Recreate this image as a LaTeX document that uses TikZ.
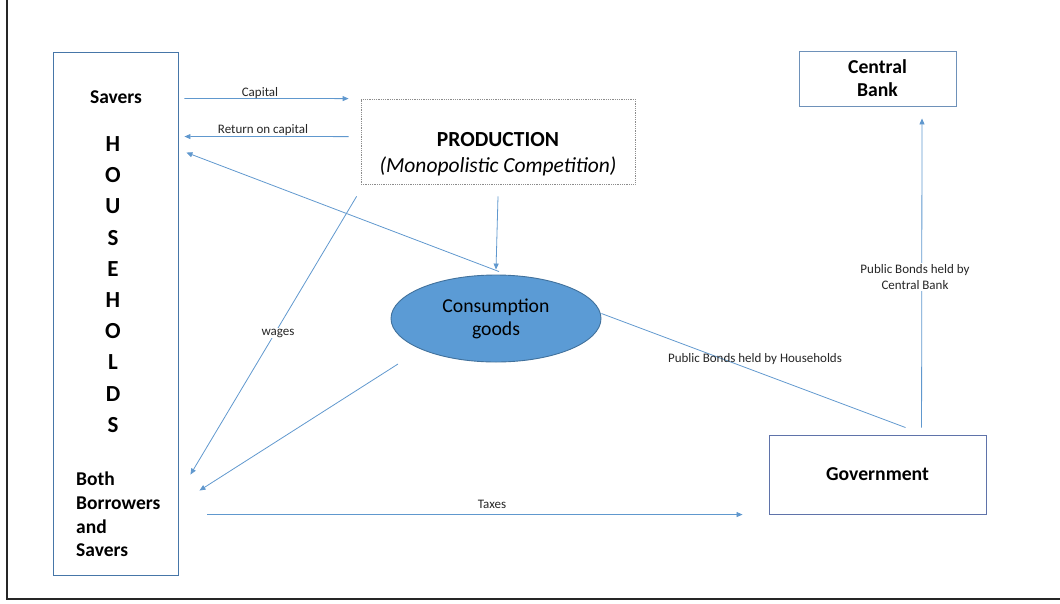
\documentclass[tikz,border=0pt]{standalone}
\usepackage{fontspec}
\setmainfont{Carlito}
\usetikzlibrary{arrows.meta,shapes.geometric}
\definecolor{arrowblue}{RGB}{96,152,206}
\definecolor{boxblue}{RGB}{70,118,168}
\definecolor{cbblue}{RGB}{110,145,185}
\definecolor{govblue}{RGB}{95,115,170}
\definecolor{ellfill}{RGB}{91,155,213}
\definecolor{elldraw}{RGB}{65,113,156}
\definecolor{prodgray}{RGB}{140,140,140}
\tikzset{
  conn/.style={draw=arrowblue, line width=0.8pt},
  arr/.style={conn, -{Triangle[length=6pt,width=5pt]}},
  lbl/.style={font=\fontsize{13}{15}\selectfont, text=black!85, inner sep=1pt},
  big/.style={font=\bfseries\fontsize{19.5}{22}\selectfont},
}
\begin{document}
\begin{tikzpicture}[x=1pt,y=-1pt]
\useasboundingbox (0,0) rectangle (1060,603);
% frame
\draw[line width=1.2pt, black!85] (7,0) -- (7,599) -- (1060,599);

% Households box
\node[draw=boxblue, line width=0.9pt, minimum width=125pt, minimum height=523pt, inner sep=0pt] (hh) at (115.5,313.5) {};
\node[big] (savers) at (116,97) {Savers};
\node[font=\bfseries\fontsize{23}{31.2}\selectfont, align=center, inner sep=0pt] (hhtext) at (113,284.5) {H\\O\\U\\S\\E\\H\\O\\L\\D\\S};
\node[font=\bfseries\fontsize{19.5}{23.7}\selectfont, align=left, anchor=west, inner sep=0pt] (both) at (76,514.5) {Both\\Borrowers\\and\\Savers};

% Production
\node[draw=prodgray, densely dotted, line width=0.8pt, minimum width=274pt, minimum height=85pt, inner sep=0pt] (prod) at (498,141.5) {};
\node[font=\bfseries\fontsize{21.5}{24}\selectfont] (prodt) at (498,140) {PRODUCTION};
\node[font=\itshape\fontsize{21.5}{24}\selectfont] (prodi) at (498,166) {(Monopolistic Competition)};

% Central bank
\node[draw=cbblue, line width=0.9pt, minimum width=157pt, minimum height=55pt, inner sep=0pt, align=center, font=\bfseries\fontsize{19.7}{23}\selectfont] (cb) at (877.5,78.5) {Central\\Bank};

% Government
\node[draw=govblue, line width=0.9pt, minimum width=217pt, minimum height=79pt, inner sep=0pt, font=\bfseries\fontsize{19.7}{23}\selectfont] (gov) at (877.5,474.5) {Government};

% Consumption goods
\node[ellipse, draw=elldraw, fill=ellfill, line width=0.9pt, minimum width=210pt, minimum height=87pt, inner sep=0pt, align=center, font=\fontsize{19.7}{23}\selectfont] (cons) at (496,318.5) {Consumption\\goods};

% connectors
\draw[arr] ([shift={(6,47)}]hh.north east) -- ([xshift=-12pt]prod.north west);
\draw[arr] ([shift={(-12,38)}]prod.north west) -- ([shift={(6,85)}]hh.north east);
\draw[arr] ([shift={(3,-3)}]cons.north) -- ([shift={(8,101)}]hh.north east);
\draw[arr] ([shift={(0,12)}]prod.south) -- ([shift={(0,-5)}]cons.north);
\draw[arr] ([shift={(-4,12)}]prod.south west) -- ([shift={(12,423)}]hh.north east);
\draw[arr] ([shift={(-98,45.5)}]cons.center) -- ([shift={(21,439)}]hh.north east);
\draw[arr] ([shift={(29,463)}]hh.north east) -- ([shift={(-26,80)}]gov.north west);
\draw[conn] ([shift={(0,-5)}]cons.east) -- ([shift={(137,-7)}]gov.north west);
\draw[arr] ([shift={(153,-7)}]gov.north west) -- ([shift={(44.5,12)}]cb.south);

% labels
\node[lbl] (lcap) at (260,93) {Capital};
\node[lbl] (lret) at (263,130) {Return on capital};
\node[lbl, fill=white] (lwag) at (278,333) {wages};
\node[lbl] (ltax) at (492,504) {Taxes};
\node[lbl] (lpbh) at (755,359) {Public Bonds held by Households};
\node[lbl, fill=white, align=center, font=\fontsize{13}{16}\selectfont] (lpbc) at (915,277) {Public Bonds held by\\Central Bank};
\end{tikzpicture}
\end{document}
